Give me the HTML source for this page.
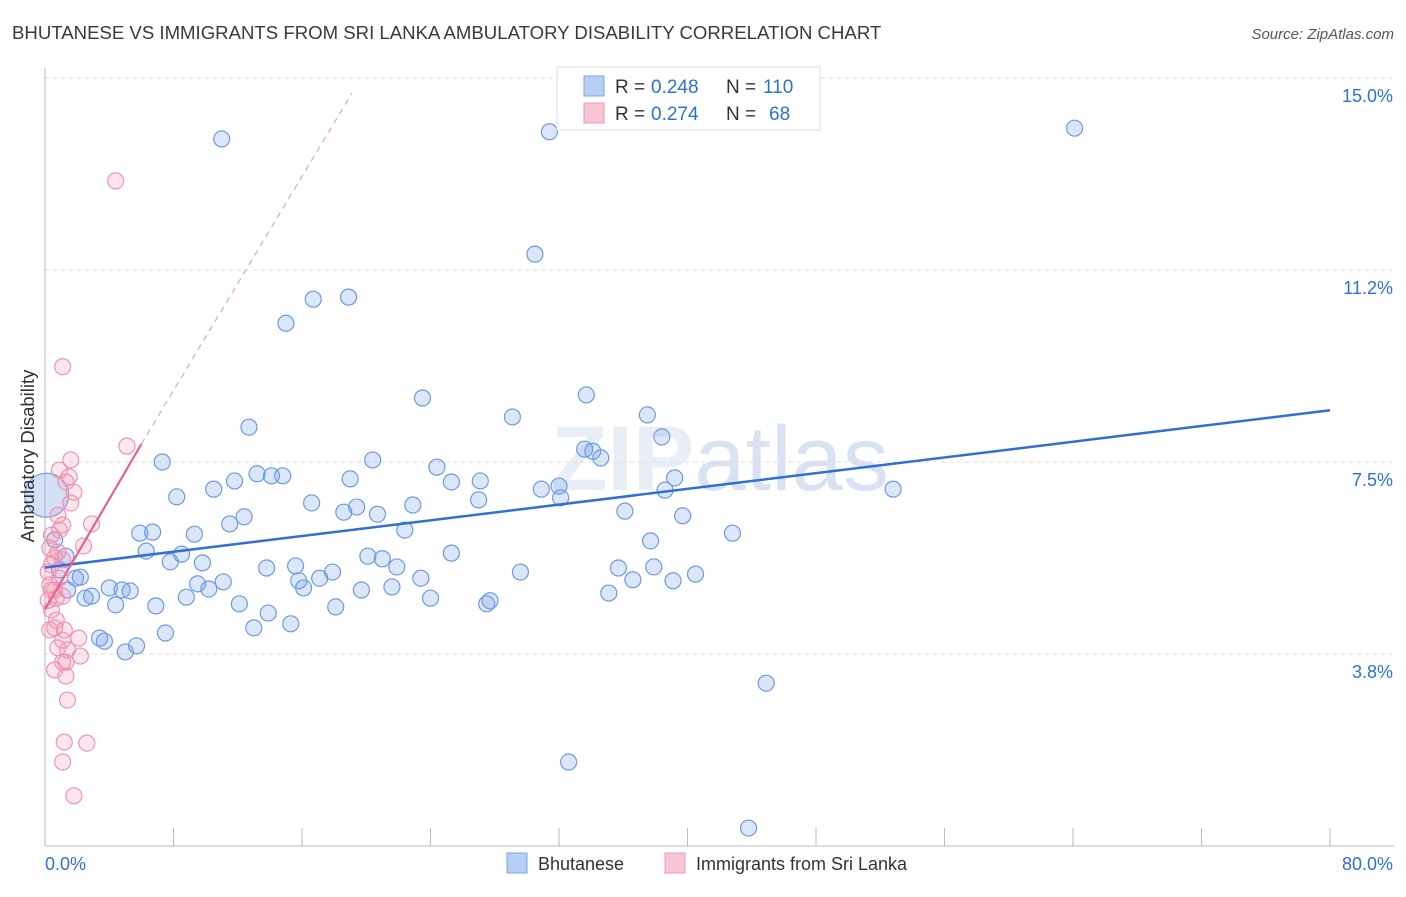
<!DOCTYPE html>
<html><head><meta charset="utf-8">
<style>
body{margin:0;background:#fff;font-family:"Liberation Sans",sans-serif;}
svg text{font-family:"Liberation Sans",sans-serif;}
</style></head>
<body>
<svg id="chart" width="1406" height="892" viewBox="0 0 1406 892" xmlns="http://www.w3.org/2000/svg">
<text x="12" y="39" font-size="18.6" fill="#3a3a3a">BHUTANESE VS IMMIGRANTS FROM SRI LANKA AMBULATORY DISABILITY CORRELATION CHART</text>
<text x="1394" y="39" font-size="15" fill="#555" text-anchor="end" font-style="italic">Source: ZipAtlas.com</text>
<text x="720" y="490" font-size="92" fill="#e3eaf4" text-anchor="middle" font-weight="bold" opacity="0.8">ZIP<tspan fill="#cfdcef" font-weight="normal">atlas</tspan></text>
<g id="grid"></g>
<g id="axes"></g>
<g id="series"></g>
<text transform="translate(34,456) rotate(-90)" font-size="18.5" fill="#333" text-anchor="middle">Ambulatory Disability</text>
<g>
<rect x="557" y="67" width="263" height="63" fill="#fff" stroke="#ddd"/>
<rect x="584" y="76" width="20" height="20" fill="#b7cff3" stroke="#7aa6e6"/>
<text x="615" y="93" font-size="19" fill="#333">R =</text>
<text x="651" y="93" font-size="19" fill="#2f6fd6">0.248</text>
<text x="726" y="93" font-size="19" fill="#333">N =</text>
<text x="763" y="93" font-size="19" fill="#2f6fd6">110</text>
<rect x="584" y="103" width="20" height="20" fill="#f8c5d5" stroke="#ee9ab5"/>
<text x="615" y="120" font-size="19" fill="#333">R =</text>
<text x="651" y="120" font-size="19" fill="#2f6fd6">0.274</text>
<text x="726" y="120" font-size="19" fill="#333">N =</text>
<text x="769" y="120" font-size="19" fill="#2f6fd6">68</text>
</g>
<g>
<rect x="507" y="853" width="20" height="20" fill="#b7cff3" stroke="#7aa6e6"/>
<text x="538" y="870" font-size="18" fill="#333">Bhutanese</text>
<rect x="665" y="853" width="20" height="20" fill="#f8c5d5" stroke="#ee9ab5"/>
<text x="696" y="870" font-size="18" fill="#333">Immigrants from Sri Lanka</text>
</g>
</svg>
<script>
const yTicks=[3.8,7.5,11.2,15.0];
const yTickVals=[3.75,7.5,11.25,15];
const xTickCount=[0,8,16,24,32,40,48,56,64,72,80];
const blueX=[11.0,31.4,64.1,30.5,16.7,18.9,15.0,33.7,23.5,29.1,37.5,12.7,38.4,33.6,34.1,34.6,7.3,20.4,24.4,13.2,14.1,14.8,19.0,11.8,25.3,27.1,39.2,32.0,30.9,38.6,52.8,10.5,8.2,16.6,27.0,22.9,19.4,18.6,20.7,32.1,36.1,39.7,12.4,11.5,22.4,5.9,6.7,9.3,42.8,37.7,6.3,8.5,25.3,20.1,21.0,9.8,7.8,15.6,13.8,37.9,35.7,21.9,17.9,29.6,15.8,17.1,40.5,36.6,39.1,23.4,11.1,9.5,4.0,4.8,5.3,10.2,16.1,19.7,21.6,35.1,24.0,8.8,2.9,2.5,4.4,6.9,12.1,18.1,27.7,27.5,13.9,15.3,13.0,7.5,3.4,3.7,5.7,5.0,44.9,32.6,43.8,1.3,1.9,1.4,0.6,0.9,2.2];
const blueY=[13.81,13.95,14.02,11.56,10.68,10.72,10.21,8.81,8.75,8.38,8.42,8.18,7.99,7.75,7.71,7.58,7.5,7.54,7.40,7.27,7.23,7.23,7.17,7.13,7.11,7.13,7.19,7.03,6.97,6.95,6.97,6.97,6.82,6.70,6.76,6.66,6.62,6.52,6.48,6.80,6.54,6.45,6.43,6.29,6.17,6.11,6.13,6.09,6.11,5.96,5.76,5.70,5.72,5.66,5.61,5.53,5.55,5.47,5.43,5.45,5.43,5.45,5.35,5.35,5.18,5.23,5.31,5.20,5.18,5.23,5.16,5.12,5.04,5.00,4.98,5.02,5.04,5.00,5.06,4.94,4.84,4.86,4.88,4.84,4.71,4.69,4.73,4.67,4.79,4.73,4.55,4.34,4.26,4.16,4.06,4.00,3.91,3.79,3.18,1.64,0.35,5.66,5.23,5.00,5.98,5.39,5.25];
const pinkX=[4.4,1.1,5.1,1.6,0.9,1.5,1.3,1.8,1.6,0.8,2.9,1.1,0.9,0.4,2.4,0.3,0.8,0.6,1.1,0.4,0.2,0.9,0.3,0.6,1.1,0.2,0.4,0.7,0.6,1.2,2.1,1.1,0.8,1.4,2.2,1.1,1.3,0.6,1.3,1.4,1.2,2.6,1.1,1.8,0.7,0.3,0.4];
const pinkY=[12.99,9.36,7.81,7.54,7.34,7.21,7.11,6.91,6.70,6.46,6.29,6.27,6.17,6.07,5.86,5.82,5.74,5.63,5.59,5.49,5.35,5.23,5.10,5.00,4.88,4.80,4.61,4.41,4.26,4.22,4.06,4.02,3.87,3.83,3.71,3.59,3.59,3.44,3.32,2.85,2.03,2.01,1.64,0.98,4.84,4.22,5.00];
const blueTrend=[[0,5.44],[80,8.51]];
const pinkTrend=[[0,4.62],[6.0,7.85]];
const pinkTrendExt=[[6.0,7.85],[19.1,14.7]];

const NS="http://www.w3.org/2000/svg";
const X0=45,X1=1330,Y0=846,Y1=78;
function sx(v){return X0+(v/80)*(X1-X0);}
function sy(v){return Y0-(v/15)*(Y0-Y1);}
function mk(tag,attrs,parent){const e=document.createElementNS(NS,tag);for(const k in attrs)e.setAttribute(k,attrs[k]);parent.appendChild(e);return e;}
const grid=document.getElementById('grid'),axes=document.getElementById('axes'),series=document.getElementById('series');
yTickVals.forEach((v,i)=>{
  const l=mk('line',{x1:X0,x2:1394,y1:sy(v),y2:sy(v),stroke:'#dcdcdc','stroke-dasharray':'4,4'},grid);
  
  
  const t=mk('text',{x:1393,y:sy(v)+24,'font-size':18,fill:'#2f6fd6','text-anchor':'end'},axes);
  t.textContent=yTicks[i].toFixed(1)+'%';
  
  
});
const ax=mk('line',{x1:X0,x2:1394,y1:Y0,y2:Y0,stroke:'#bbb'},axes);


const ay=mk('line',{x1:X0,x2:X0,y1:68,y2:Y0,stroke:'#bbb'},axes);


xTickCount.forEach(v=>{
  const t=mk('line',{x1:sx(v),x2:sx(v),y1:828,y2:Y0,stroke:'#bbb'},axes);
  
  
});
const xl=mk('text',{x:45,y:870,'font-size':18,fill:'#2f6fd6'},axes);xl.textContent='0.0%';


const xr=mk('text',{x:1393,y:870,'font-size':18,fill:'#2f6fd6','text-anchor':'end'},axes);xr.textContent='80.0%';


const big=mk('circle',{cx:sx(0.1),cy:sy(6.85),r:22,fill:'rgba(110,155,230,0.3)',stroke:'#7aa6e6','stroke-width':1.2},series);


blueX.forEach((x,i)=>{
  const c=mk('circle',{cx:sx(x),cy:sy(blueY[i]),r:8,fill:'rgba(110,155,230,0.25)',stroke:'#6c9be4','stroke-width':1.2},series);
  
  
});
pinkX.forEach((x,i)=>{
  const c=mk('circle',{cx:sx(x),cy:sy(pinkY[i]),r:8,fill:'rgba(240,140,170,0.22)',stroke:'#ef94b1','stroke-width':1.2},series);
  
  
});
const bt=mk('line',{x1:sx(blueTrend[0][0]),y1:sy(blueTrend[0][1]),x2:sx(blueTrend[1][0]),y2:sy(blueTrend[1][1]),stroke:'#2f6fd6','stroke-width':2.5},series);


const pt=mk('line',{x1:sx(pinkTrend[0][0]),y1:sy(pinkTrend[0][1]),x2:sx(pinkTrend[1][0]),y2:sy(pinkTrend[1][1]),stroke:'#e8608c','stroke-width':2.2},series);


const pe=mk('line',{x1:sx(pinkTrendExt[0][0]),y1:sy(pinkTrendExt[0][1]),x2:sx(pinkTrendExt[1][0]),y2:sy(pinkTrendExt[1][1]),stroke:'#eaa0b8','stroke-width':1.2,'stroke-dasharray':'6,5'},series);


</script>
</body></html>
